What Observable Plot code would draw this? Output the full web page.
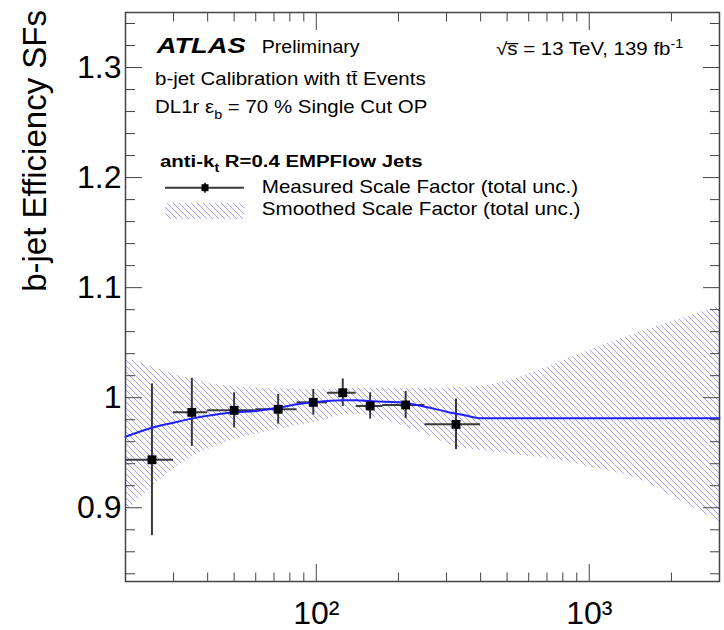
<!DOCTYPE html>
<html><head><meta charset="utf-8">
<script src="https://cdn.jsdelivr.net/npm/d3@7"></script>
<script src="https://cdn.jsdelivr.net/npm/@observablehq/plot@0.6"></script>
<style>
body{margin:0;background:#fff}
svg{font-family:"Liberation Sans",Arial,Helvetica,sans-serif}
</style>
</head><body><div id="chart"></div>
<script>
// ---- measured scale factors (pT bins in GeV) ----
const binLow    = [20, 30, 40, 60, 85, 110, 140, 175, 250];
const binHigh   = [30, 40, 60, 85, 110, 140, 175, 250, 400];
const binCenter = [25, 35, 50, 72.5, 97.5, 125, 157.5, 212.5, 325];
const sfValue   = [0.9436, 0.9867, 0.9885, 0.9895, 0.9958, 1.0045, 0.9925, 0.9934, 0.9758];
const sfError   = [0.069, 0.031, 0.016, 0.0135, 0.0117, 0.0126, 0.012, 0.0123, 0.023];

// ---- smoothed scale factor (central curve) ----
const smoothPt = [20, 25, 30, 35, 40, 50, 60, 72.5, 85, 100, 125, 140, 160, 200, 250, 300, 350, 400, 3000];
const smoothSF = [0.9645, 0.9727, 0.9773, 0.981, 0.9836, 0.9867, 0.9879, 0.9909, 0.994, 0.9961, 0.9976, 0.9977, 0.9967, 0.9958, 0.9918, 0.9873, 0.984, 0.9813, 0.9813];

// ---- smoothed band (total unc.) ----
const bandPt = [20, 25, 33.5, 44, 58, 77.5, 100, 125, 143, 175, 212, 250, 323, 440, 580, 770, 1000, 1550, 2200, 3000];
const bandHi = [1.036, 1.028, 1.018, 1.0115, 1.0088, 1.008, 1.0075, 1.008, 1.0085, 1.0085, 1.0085, 1.0085, 1.009, 1.012, 1.02, 1.032, 1.043, 1.06, 1.072, 1.083];
const bandLo = [0.895, 0.919, 0.943, 0.957, 0.966, 0.9725, 0.978, 0.984, 0.985, 0.980, 0.9736, 0.967, 0.9554, 0.951, 0.947, 0.9434, 0.9373, 0.925, 0.905, 0.887];

// ---- ticks ----
const xMajor = [100, 1000];
const xLabels = ["10²", "10³"];
const xMinor = [30, 40, 50, 60, 70, 80, 90, 200, 300, 400, 500, 600, 700, 800, 900, 2000];
const yMajor = [0.9, 1.0, 1.1, 1.2, 1.3];
const yLabels = ["0.9", "1", "1.1", "1.2", "1.3"];
const yMinor = [0.84, 0.86, 0.88, 0.92, 0.94, 0.96, 0.98, 1.02, 1.04, 1.06, 1.08, 1.12, 1.14, 1.16, 1.18, 1.22, 1.24, 1.26, 1.28, 1.32, 1.34];

const measured = binCenter.map((x, i) => ({x, lo: binLow[i], hi: binHigh[i], y: sfValue[i], e: sfError[i]}));
const smooth = smoothPt.map((x, i) => ({x, y: smoothSF[i]}));
const band = bandPt.map((x, i) => ({x, lo: bandLo[i], hi: bandHi[i]}));

const axisColor = "#444";
const errColor = "#3a3a3a";

const svg = Plot.plot({
  width: 724, height: 630,
  marginLeft: 125, marginRight: 5, marginTop: 12, marginBottom: 49,
  style: {fontFamily: '"Liberation Sans", Arial, Helvetica, sans-serif', background: "white", color: "black"},
  x: {type: "log", domain: [20, 3000], label: null},
  y: {domain: [0.833, 1.35], label: null},
  marks: [
    Plot.areaY(band, {x: "x", y1: "lo", y2: "hi", fill: "url(#hatch)", curve: "monotone-x"}),
    Plot.ruleY(measured, {y: "y", x1: "lo", x2: "hi", stroke: errColor, strokeWidth: 2}),
    Plot.ruleX(measured, {x: "x", y1: d => d.y - d.e, y2: d => d.y + d.e, stroke: errColor, strokeWidth: 2}),
    Plot.line(smooth, {x: "x", y: "y", stroke: "#2020ff", strokeWidth: 2, curve: "monotone-x"}),
    Plot.dot(measured, {x: "x", y: "y", symbol: "square", r: 5, fill: "black", stroke: "none"}),
    Plot.frame({stroke: axisColor, strokeWidth: 1.5}),
    // inward ticks, all four sides
    Plot.axisX(xMajor, {anchor: "bottom", tickSize: -17, tickFormat: () => "", stroke: axisColor, label: null}),
    Plot.axisX(xMinor, {anchor: "bottom", tickSize: -8.5, tickFormat: () => "", stroke: axisColor, label: null}),
    Plot.axisX(xMajor, {anchor: "top", tickSize: -17, tickFormat: () => "", stroke: axisColor, label: null}),
    Plot.axisX(xMinor, {anchor: "top", tickSize: -8.5, tickFormat: () => "", stroke: axisColor, label: null}),
    Plot.axisY(yMajor, {anchor: "left", tickSize: -17, tickFormat: () => "", stroke: axisColor, label: null}),
    Plot.axisY(yMinor, {anchor: "left", tickSize: -10, tickFormat: () => "", stroke: axisColor, label: null}),
    Plot.axisY(yMajor, {anchor: "right", tickSize: -17, tickFormat: () => "", stroke: axisColor, label: null}),
    Plot.axisY(yMinor, {anchor: "right", tickSize: -10, tickFormat: () => "", stroke: axisColor, label: null}),
    // labels
    Plot.axisX(xMajor, {anchor: "bottom", tickSize: 0, tickPadding: 20, fontSize: 32, fill: "black",
      tickFormat: d => xLabels[xMajor.indexOf(d)], label: null}),
    Plot.axisY(yMajor, {anchor: "left", tickSize: 0, tickPadding: 4, fontSize: 32, fill: "black",
      tickFormat: d => yLabels[yMajor.indexOf(d)], label: null})
  ]
});

const root = d3.select(svg);
const defs = root.insert("defs", ":first-child");
const pat = defs.append("pattern").attr("id", "hatch").attr("patternUnits", "userSpaceOnUse")
  .attr("width", 6).attr("height", 6);
pat.append("path").attr("d", "M-1,-1L7,7M-1,5L1,7M5,-1L7,1")
  .attr("stroke", "#9494f2").attr("stroke-width", 0.85).attr("fill", "none");

// y title
root.append("text")
  .attr("transform", "translate(45.5,10) rotate(-90)")
  .attr("text-anchor", "end")
  .attr("font-size", 33)
  .attr("fill", "black")
  .text("b-jet Efficiency SFs");

// annotation helper
function note(x, y, size, k, parts, weight, style) {
  const g = root.append("g").attr("transform", `translate(${x},${y}) scale(${k},1)`);
  const t = g.append("text").attr("font-size", size).attr("fill", "black").attr("text-anchor", "start");
  if (weight) t.attr("font-weight", weight);
  if (style) t.attr("font-style", style);
  let shift = 0;
  for (const p of parts) {
    const [s, o] = typeof p === "string" ? [p, {}] : p;
    const ts = t.append("tspan").text(s);
    const target = o.sub ? size * 0.3 : o.sup ? -size * 0.42 : 0;
    if (target !== shift) { ts.attr("dy", target - shift); shift = target; }
    if (o.sub || o.sup) ts.attr("font-size", size * 0.7);
  }
  return t;
}

note(156.7, 53.3, 21.5, 1.27, ["ATLAS"], "bold", "italic");
note(261.7, 53.3, 17.5, 1.12, ["Preliminary"]);
note(155, 85, 17.5, 1.17, ["b-jet Calibration with t", "t\u0304", " Events"]);
note(155, 113.3, 17.5, 1.17, ["DL1r ε", ["b", {sub: true}], " = 70 % Single Cut OP"]);
note(496, 55, 17.5, 1.17, ["√s\u0305 = 13 TeV, 139 fb", ["-1", {sup: true}]]);
note(160, 166.7, 17, 1.2, ["anti-k", ["t", {sub: true}], " R=0.4 EMPFlow Jets"], "bold");
note(261.7, 192.7, 17.7, 1.166, ["Measured Scale Factor (total unc.)"]);
note(261.7, 215, 17.7, 1.166, ["Smoothed Scale Factor (total unc.)"]);

// legend symbols
const leg = root.append("g");
leg.append("rect").attr("x", 165).attr("y", 203).attr("width", 79).attr("height", 16).attr("fill", "url(#hatch)");
leg.append("line").attr("x1", 165).attr("x2", 244).attr("y1", 187.7).attr("y2", 187.7)
  .attr("stroke", errColor).attr("stroke-width", 2);
leg.append("line").attr("x1", 205).attr("x2", 205).attr("y1", 182.7).attr("y2", 192.7)
  .attr("stroke", errColor).attr("stroke-width", 2);
leg.append("rect").attr("x", 201.5).attr("y", 184.2).attr("width", 7).attr("height", 7).attr("fill", "black");

document.getElementById("chart").appendChild(svg);
</script>
</body></html>
